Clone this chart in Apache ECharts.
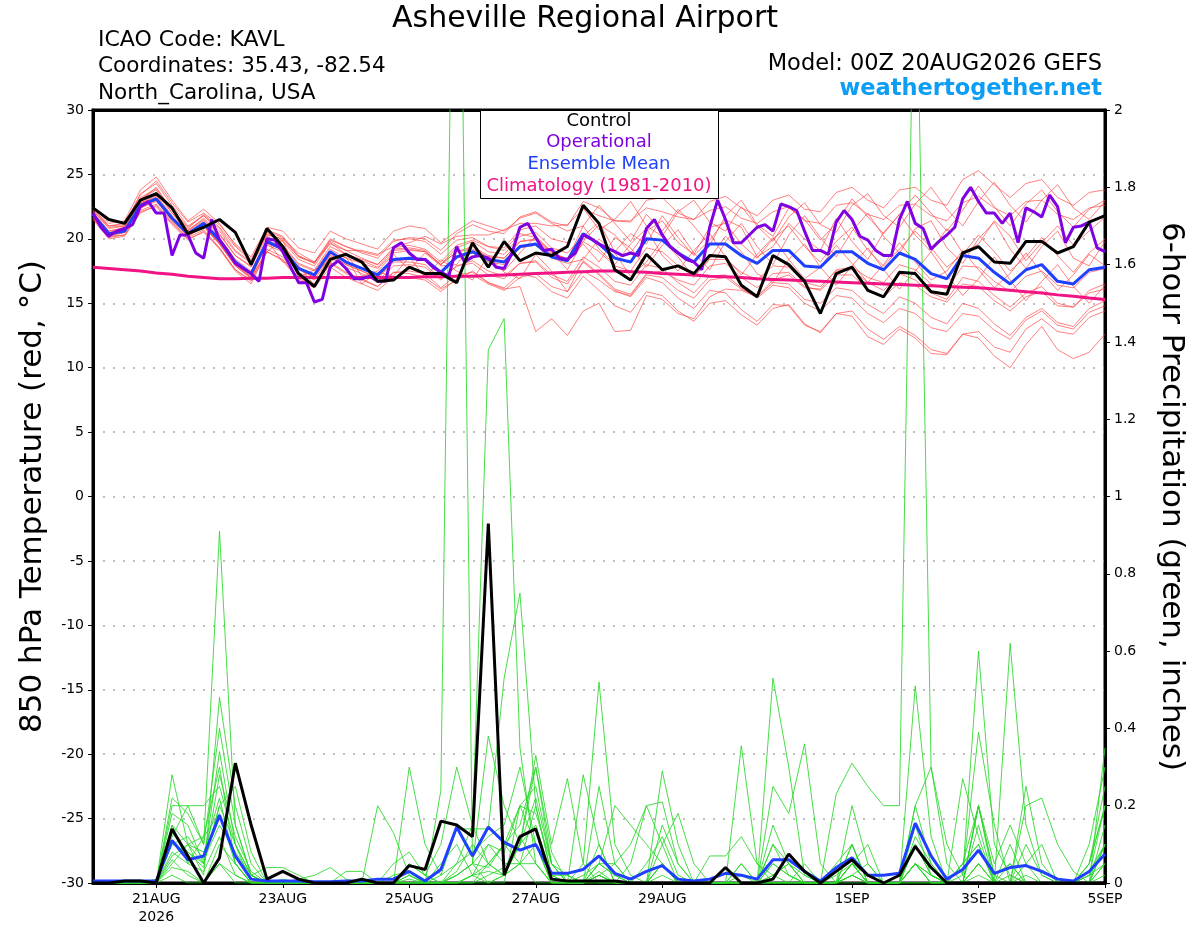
<!DOCTYPE html>
<html>
<head>
<meta charset="utf-8">
<title>Asheville Regional Airport - GEFS</title>
<script src="https://cdn.jsdelivr.net/npm/echarts@6.0.0/dist/echarts.min.js"></script>
<style>
  html, body { margin: 0; padding: 0; background: #fff; }
  #chart { width: 1200px; height: 927px; }
</style>
</head>
<body>
<div id="chart"></div>
<script>
'use strict';

// x axis = forecast hour from 00Z 20AUG2026
let tickHours = [24, 72, 120, 168, 216, 288, 336, 384];
let tickLabels = ['21AUG\n2026', '23AUG', '25AUG', '27AUG', '29AUG', '1SEP', '3SEP', '5SEP'];

// 850 hPa temperature (C), 6-hourly
let control = [
    22.4, 21.5, 21.2, 23.0, 23.5, 22.4, 20.4, 20.9, 21.5, 20.5, 18.0,
    20.8, 19.4, 17.3, 16.3, 18.4, 18.8, 18.2, 16.7, 16.8, 17.8,
    17.3, 17.3, 16.6, 19.7, 17.8, 19.8, 18.3, 18.9, 18.7, 19.4,
    22.6, 21.2, 17.6, 16.8, 18.8, 17.6, 17.9, 17.3, 18.7, 18.6,
    16.4, 15.5, 18.7, 18.0, 16.7, 14.2, 17.3, 17.8, 16.0, 15.5,
    17.4, 17.3, 15.9, 15.7, 18.9, 19.4, 18.2, 18.1, 19.8, 19.8,
    18.9, 19.4, 21.3, 21.8
];
let ensMean = [
    21.9, 20.4, 20.6, 22.6, 23.1, 21.6, 20.4, 21.2, 19.9, 18.2, 17.3,
    19.8, 19.2, 17.7, 17.2, 19.0, 18.2, 17.7, 17.2, 18.4, 18.5,
    18.4, 17.4, 18.6, 19.0, 18.4, 18.2, 19.4, 19.6, 18.6, 18.3,
    20.4, 19.6, 18.5, 18.2, 20.0, 19.9, 18.9, 18.2, 19.6, 19.6,
    18.7, 18.1, 19.1, 19.1, 17.9, 17.8, 19.0, 19.0, 18.1, 17.6,
    18.9, 18.4, 17.3, 16.9, 18.7, 18.5, 17.4, 16.5, 17.6, 18.0,
    16.7, 16.5, 17.6, 17.8
];
let climatology = [
    17.8, 17.7, 17.6, 17.5, 17.35, 17.25, 17.1, 17.0, 16.9,
    16.9, 16.95, 16.95, 17.0, 17.0, 17.0, 17.0, 17.0, 17.0, 17.0, 17.0, 17.0, 17.05,
    17.05, 17.1, 17.1, 17.15, 17.2, 17.25, 17.3, 17.35, 17.4, 17.45, 17.5,
    17.5, 17.45, 17.4, 17.3, 17.25, 17.2, 17.1, 17.05, 17.0, 16.9, 16.85,
    16.8, 16.75, 16.7, 16.65, 16.6, 16.55, 16.5, 16.45, 16.4, 16.35, 16.3,
    16.25, 16.2, 16.1, 16.0, 15.9, 15.8, 15.65, 15.55, 15.4, 15.3
];
// operational run, 3-hourly
let operational = [
    22.0, 20.9, 20.2, 20.6, 20.8, 21.1, 22.5, 22.9,
    22.0, 22.0, 18.7, 20.3, 20.3, 18.9, 18.5, 21.5,
    19.9, 19.1, 18.1, 17.7, 17.3, 16.7, 20.0, 19.9,
    19.0, 17.8, 16.6, 16.6, 15.1, 15.3, 17.8, 18.3,
    17.7, 16.9, 16.9, 17.1, 16.7, 16.7, 19.3, 19.7,
    18.9, 18.4, 18.4, 17.8, 17.4, 17.1, 19.4, 18.2,
    18.6, 18.7, 18.5, 17.8, 17.7, 18.9, 20.9, 21.2,
    20.1, 19.1, 19.2, 18.5, 18.4, 18.9, 20.3, 20.0,
    19.6, 19.3, 19.0, 18.7, 18.9, 18.7, 20.8, 21.5,
    20.3, 19.4, 18.9, 18.4, 18.2, 17.6, 20.9, 23.0,
    21.5, 19.7, 19.7, 20.3, 20.9, 21.1, 20.6, 22.7,
    22.5, 22.2, 20.6, 19.1, 19.1, 18.8, 21.3, 22.2,
    21.5, 20.2, 19.9, 19.1, 18.7, 18.7, 21.5, 22.9,
    21.2, 20.8, 19.2, 19.8, 20.3, 20.9, 23.1, 24.0,
    22.9, 22.0, 22.0, 21.2, 22.0, 19.7, 22.4, 22.1,
    21.7, 23.4, 22.5, 19.7, 20.9, 21.0, 21.3, 19.3,
    19.0
];

// ensemble members, 6-hourly
let tMem01 = [
    22.2, 20.9, 21.0, 23.0, 24.0, 22.2, 20.8, 21.9, 20.9, 19.4, 18.3,
    20.3, 20.0, 18.9, 18.2, 19.6, 19.1, 19.1, 18.8, 19.4, 19.7,
    20.2, 19.6, 20.2, 20.3, 20.3, 20.7, 21.2, 21.2, 21.0, 21.1,
    22.3, 21.8, 21.4, 21.4, 22.4, 22.1, 21.7, 21.5, 22.2, 22.5,
    21.6, 21.2, 22.1, 22.5, 21.4, 21.2, 22.6, 22.8, 21.9, 21.5,
    22.6, 22.7, 21.8, 21.4, 22.8, 23.3, 22.4, 21.8, 22.9, 23.0,
    21.9, 21.5, 22.4, 22.6
];
let tMem02 = [
    21.6, 20.1, 20.3, 22.0, 22.6, 21.2, 20.0, 20.5, 19.3, 17.6, 16.8,
    19.2, 18.6, 17.0, 16.5, 18.2, 17.4, 16.9, 16.3, 17.4, 17.3,
    17.0, 16.1, 16.8, 17.5, 16.6, 16.2, 17.3, 17.0, 15.9, 15.4,
    17.1, 16.0, 14.8, 14.3, 15.9, 15.6, 14.4, 13.6, 15.0, 15.2,
    14.1, 13.3, 14.6, 14.9, 13.4, 12.7, 14.2, 14.4, 13.0, 12.2,
    13.2, 12.5, 11.4, 11.1, 12.6, 12.3, 10.9, 10.0, 11.8, 13.2,
    11.4, 10.7, 11.2, 12.6
];
let tMem03 = [
    22.0, 20.6, 20.8, 23.1, 23.8, 22.0, 20.6, 21.6, 20.4, 18.7, 17.9,
    20.4, 19.8, 18.4, 17.9, 19.7, 18.8, 18.3, 17.8, 19.1, 19.2,
    19.0, 18.0, 19.3, 19.8, 19.0, 18.8, 20.2, 20.5, 19.3, 18.9,
    20.2, 21.3, 19.0, 20.4, 19.6, 21.8, 20.1, 18.7, 19.9, 21.5,
    20.9, 18.6, 19.4, 21.2, 20.0, 19.1, 21.6, 19.8, 18.4, 20.5,
    21.9, 20.3, 19.0, 20.8, 18.9, 19.6, 21.4, 20.2, 18.3, 19.7,
    21.0, 19.5, 20.6, 21.7
];
let tMem04 = [
    21.7, 20.2, 20.3, 22.2, 22.7, 21.3, 20.1, 20.7, 19.3, 17.6, 16.7,
    19.0, 18.4, 16.9, 16.4, 18.1, 17.3, 16.8, 16.3, 17.4, 17.5,
    17.3, 16.2, 17.2, 17.4, 16.6, 16.1, 16.3, 12.8, 13.8, 12.5,
    14.4, 15.0, 12.8, 12.9, 15.6, 15.3, 14.2, 13.8, 15.5, 16.1,
    16.0, 15.5, 16.8, 17.2, 16.2, 16.1, 17.6, 17.8, 17.0, 16.6,
    18.0, 17.6, 16.5, 16.1, 17.9, 17.8, 16.7, 15.9, 17.1, 17.5,
    16.4, 16.2, 17.4, 17.7
];
let tMem05 = [
    21.8, 20.3, 20.5, 22.4, 23.0, 21.5, 20.3, 21.0, 19.6, 18.0, 17.1,
    19.5, 19.0, 17.4, 16.8, 18.6, 17.8, 17.3, 16.7, 17.9, 18.0,
    17.8, 16.8, 17.9, 18.3, 17.5, 17.1, 18.1, 18.2, 17.0, 16.5,
    18.2, 17.2, 16.0, 15.5, 17.0, 16.6, 15.4, 14.6, 16.0, 15.8,
    14.5, 13.6, 14.9, 14.8, 13.3, 12.8, 14.2, 14.0, 12.4, 11.8,
    13.0, 12.3, 11.1, 11.0, 12.6, 12.8, 11.6, 11.2, 13.0, 13.8,
    12.8, 12.6, 13.9, 14.4
];
let tMem06 = [
    22.4, 21.0, 21.2, 23.4, 24.5, 22.8, 21.3, 22.0, 21.1, 19.6, 18.6,
    20.9, 20.6, 19.3, 18.9, 20.6, 20.0, 19.6, 19.2, 20.6, 21.0,
    20.8, 19.7, 20.6, 21.4, 21.0, 20.6, 21.6, 22.0, 21.2, 20.6,
    21.0, 22.6, 21.2, 19.8, 21.9, 20.6, 22.3, 21.0, 19.5, 21.8,
    23.0, 21.1, 20.2, 22.4, 21.5, 19.9, 21.2, 23.1, 21.7, 20.4,
    21.9, 23.4, 22.0, 20.6, 22.2, 24.1, 22.5, 21.0, 22.7, 23.8,
    22.1, 20.9, 22.3, 23.0
];
let tMem07 = [
    21.9, 20.3, 20.5, 22.4, 22.9, 21.4, 20.2, 21.0, 19.7, 18.0, 17.0,
    19.0, 19.9, 17.0, 17.6, 18.2, 18.9, 17.1, 17.5, 18.8, 17.6,
    18.9, 17.9, 18.0, 19.7, 18.3, 17.5, 18.9, 20.2, 19.0, 17.6,
    19.8, 19.0, 17.9, 17.5, 19.3, 19.0, 17.9, 17.1, 18.4, 18.4,
    17.4, 16.8, 17.9, 17.8, 16.6, 16.3, 17.5, 17.6, 16.6, 16.0,
    17.3, 16.8, 15.8, 15.3, 17.0, 16.7, 15.6, 14.7, 15.8, 16.3,
    15.0, 14.7, 15.8, 16.1
];
let tMem08 = [
    22.3, 21.0, 21.1, 23.5, 24.3, 22.6, 21.0, 21.8, 20.8, 19.1, 18.2,
    20.6, 20.1, 18.6, 18.1, 19.9, 19.4, 18.9, 18.5, 19.8, 20.1,
    20.0, 19.1, 20.4, 21.1, 20.6, 20.4, 21.7, 22.1, 21.3, 21.0,
    22.9, 22.4, 21.4, 21.3, 23.0, 23.2, 22.0, 21.5, 22.9, 23.3,
    22.4, 21.8, 23.0, 23.4, 22.3, 22.1, 23.6, 24.0, 23.0, 22.4,
    23.8, 24.0, 23.0, 22.6, 24.6, 25.3, 24.2, 23.2, 24.3, 24.6,
    23.2, 22.6, 23.6, 23.8
];
let tMem09 = [
    22.1, 20.6, 20.9, 22.9, 23.6, 22.0, 20.7, 21.5, 20.3, 18.7, 17.8,
    20.2, 19.5, 18.1, 17.6, 19.4, 18.8, 18.4, 18.0, 19.3, 19.5,
    19.2, 18.2, 19.5, 19.9, 19.4, 19.1, 20.4, 20.1, 19.0, 18.4,
    19.6, 18.2, 20.1, 19.3, 17.8, 19.5, 20.7, 18.9, 17.6, 19.8,
    21.2, 19.4, 18.0, 20.3, 21.8, 20.1, 18.6, 20.6, 22.0, 20.2,
    18.9, 20.8, 21.4, 19.3, 18.1, 20.0, 21.3, 19.2, 17.7, 19.4,
    20.6, 18.5, 17.9, 19.8
];
let tMem10 = [
    21.5, 20.0, 20.2, 22.1, 22.5, 21.1, 19.9, 20.6, 19.2, 17.5, 16.5,
    19.0, 18.3, 16.8, 16.2, 17.8, 17.0, 16.5, 16.0, 17.0, 17.0,
    16.8, 15.9, 16.9, 17.2, 16.5, 16.0, 17.0, 17.3, 16.3, 15.9,
    17.5, 16.8, 15.9, 15.6, 17.2, 17.0, 16.0, 15.4, 16.8, 17.0,
    16.1, 15.5, 16.6, 16.5, 15.3, 15.0, 16.2, 16.0, 14.9, 14.2,
    15.5, 15.0, 13.9, 13.4, 15.0, 14.6, 13.4, 12.5, 13.9, 14.6,
    13.5, 13.2, 14.6, 15.2
];
let tMem11 = [
    22.5, 21.2, 21.4, 23.8, 24.8, 23.0, 21.4, 22.3, 21.2, 19.5, 18.4,
    20.7, 20.2, 18.7, 18.1, 19.8, 19.1, 18.5, 18.0, 19.2, 19.3,
    19.1, 18.0, 19.0, 19.4, 18.7, 18.5, 19.8, 20.0, 18.9, 18.4,
    21.0, 19.2, 18.0, 19.6, 20.8, 18.7, 17.5, 19.1, 20.4, 18.6,
    17.2, 18.8, 20.1, 18.4, 16.9, 17.8, 19.5, 18.1, 16.6, 18.0,
    19.7, 18.2, 16.8, 17.5, 19.1, 17.6, 16.2, 17.3, 18.9, 17.4,
    16.0, 17.2, 18.8, 17.9
];
let tMem12 = [
    21.8, 20.4, 20.6, 22.7, 23.3, 21.7, 20.5, 21.2, 19.9, 18.2, 17.3,
    19.7, 19.1, 17.6, 17.0, 18.8, 18.0, 17.5, 17.0, 18.3, 18.4,
    18.3, 17.3, 18.5, 18.9, 18.2, 18.0, 19.3, 19.5, 18.5, 18.1,
    18.4, 20.0, 18.9, 17.1, 18.2, 19.9, 18.6, 17.0, 18.5, 20.2,
    19.0, 17.3, 16.6, 18.4, 19.6, 17.8, 16.4, 17.9, 19.3, 17.6,
    16.1, 17.5, 19.0, 17.2, 15.6, 16.9, 18.6, 16.8, 15.2, 16.7,
    18.0, 16.3, 15.0, 16.4
];
let tMem13 = [
    22.2, 20.8, 21.0, 23.2, 23.9, 22.3, 20.9, 21.8, 20.6, 19.0, 18.1,
    20.5, 19.9, 18.6, 18.2, 20.0, 19.4, 19.0, 18.7, 19.9, 20.0,
    19.8, 18.8, 19.9, 20.1, 19.4, 19.3, 20.7, 21.0, 20.0, 19.7,
    22.4, 20.7, 21.5, 22.9, 21.0, 20.2, 22.1, 23.0, 21.3, 20.6,
    22.5, 21.0, 19.8, 21.7, 22.8, 21.1, 20.5, 22.6, 23.5, 21.8,
    20.9, 22.7, 24.0, 22.3, 21.0, 22.9, 24.4, 22.6, 21.3, 23.0,
    24.2, 22.4, 21.5, 22.9
];
let tMem14 = [
    21.6, 20.2, 20.5, 22.6, 23.0, 21.6, 20.3, 21.1, 19.6, 17.9, 16.9,
    19.9, 18.2, 17.9, 16.4, 18.0, 18.6, 16.5, 17.4, 17.1, 18.6,
    17.0, 18.4, 17.5, 16.8, 18.7, 17.4, 16.9, 18.8, 17.5, 15.9,
    18.3, 17.3, 16.1, 15.7, 17.3, 17.5, 16.8, 16.4, 17.9, 18.1,
    17.0, 16.2, 17.3, 17.4, 16.3, 16.0, 17.2, 17.2, 16.1, 15.5,
    16.6, 16.4, 15.5, 15.1, 16.5, 16.3, 15.2, 14.4, 15.5, 15.9,
    14.8, 14.7, 16.0, 16.5
];
let tMem15 = [
    22.0, 20.5, 20.7, 22.8, 23.4, 21.8, 20.6, 21.4, 20.1, 18.4, 17.5,
    19.9, 19.4, 18.0, 17.5, 19.2, 18.5, 18.1, 17.7, 18.9, 19.1,
    19.0, 18.0, 19.0, 19.2, 18.6, 18.5, 19.8, 19.9, 18.8, 18.5,
    19.8, 21.1, 20.3, 18.9, 20.6, 21.4, 19.7, 18.8, 20.9, 21.2,
    19.6, 18.5, 20.0, 21.0, 19.4, 18.2, 19.8, 20.9, 19.1, 17.9,
    19.2, 20.6, 19.3, 17.8, 18.8, 20.3, 19.0, 17.5, 18.6, 20.1,
    18.7, 17.4, 18.9, 20.0
];
let tMem16 = [
    21.9, 20.4, 20.7, 22.8, 23.2, 21.5, 20.2, 20.9, 19.6, 17.9, 17.0,
    19.6, 19.2, 17.7, 17.0, 18.7, 18.0, 17.5, 16.9, 18.2, 18.2,
    18.0, 16.9, 17.9, 18.1, 17.2, 16.9, 18.1, 18.3, 17.2, 16.7,
    18.6, 17.8, 16.7, 16.4, 18.0, 17.7, 16.6, 15.8, 17.1, 17.2,
    16.2, 15.4, 16.4, 16.2, 15.0, 14.4, 15.6, 15.4, 14.2, 13.5,
    14.6, 14.2, 13.1, 12.8, 14.2, 14.0, 12.9, 12.2, 13.7, 14.4,
    13.3, 13.0, 14.3, 14.8
];
let tempMembers = [tMem01, tMem02, tMem03, tMem04, tMem05, tMem06, tMem07, tMem08,
    tMem09, tMem10, tMem11, tMem12, tMem13, tMem14, tMem15, tMem16];

// 6-hour precipitation (inches)
let ctrlPrecip = [
    0, 0, 0.005, 0.005, 0, 0.14, 0.07, 0, 0.065, 0.31,
    0.15, 0.01, 0.03, 0.01, 0, 0, 0, 0.01, 0, 0,
    0.045, 0.035, 0.16, 0.15, 0.12, 0.93, 0.02, 0.12, 0.14, 0.01,
    0.005, 0.005, 0.005, 0.005, 0, 0, 0, 0, 0, 0,
    0.04, 0, 0, 0.01, 0.075, 0.03, 0, 0.03, 0.06, 0.02,
    0, 0.02, 0.095, 0.04, 0, 0, 0, 0, 0, 0,
    0, 0, 0, 0, 0
];
let meanPrecip = [
    0.005, 0.005, 0.005, 0.005, 0.005, 0.11, 0.06, 0.07, 0.175, 0.07,
    0.01, 0.005, 0.005, 0.005, 0.003, 0.003, 0.005, 0.005, 0.01, 0.01,
    0.03, 0.005, 0.035, 0.145, 0.07, 0.145, 0.105, 0.085, 0.1, 0.025,
    0.025, 0.035, 0.07, 0.025, 0.01, 0.03, 0.045, 0.01, 0.005, 0.01,
    0.025, 0.02, 0.01, 0.06, 0.06, 0.03, 0.005, 0.04, 0.065, 0.02,
    0.02, 0.025, 0.155, 0.07, 0.01, 0.035, 0.085, 0.025, 0.04, 0.045,
    0.03, 0.01, 0.005, 0.03, 0.075
];
let pMem01 = [
    0, 0, 0, 0, 0, 0.2, 0.2, 0.1, 0.91, 0.15,
    0.02, 0, 0.01, 0, 0, 0, 0, 0, 0, 0,
    0.05, 0.02, 0.1, 0.3, 0.15, 0.05, 0.02, 0.1, 0.3, 0.05,
    0, 0, 0.05, 0.02, 0, 0, 0.29, 0.1, 0, 0,
    0, 0.02, 0, 0.1, 0.02, 0, 0, 0, 0.2, 0.05,
    0, 0, 0.1, 0.02, 0, 0, 0.2, 0.02, 0.05, 0,
    0, 0, 0, 0.02, 0.1
];
let pMem02 = [
    0, 0, 0, 0, 0, 0.28, 0.1, 0.02, 0.48, 0.2,
    0.05, 0, 0, 0, 0, 0, 0, 0, 0, 0.02,
    0.03, 0, 0.24, 3.3, 0.05, 0, 0, 0.2, 0.1, 0,
    0, 0.05, 0.52, 0.1, 0.02, 0, 0.05, 0, 0, 0,
    0, 0, 0, 0.02, 0.05, 0, 0, 0, 0.02, 0,
    0, 0, 0.05, 0.02, 0, 0.05, 0.1, 0, 0, 0.1,
    0.02, 0, 0, 0, 0.35
];
let pMem03 = [
    0, 0, 0, 0, 0, 0.18, 0.15, 0.05, 0.34, 0.1,
    0.02, 0.04, 0.04, 0.02, 0, 0, 0, 0, 0.2, 0.13,
    0.02, 0, 0.02, 0.05, 0.15, 1.38, 1.46, 0.35, 0.05, 0,
    0, 0.02, 0.05, 0.2, 0.15, 0.1, 0.05, 0, 0, 0,
    0, 0.355, 0.05, 0.02, 0, 0, 0, 0.02, 0.05, 0,
    0, 0, 0.51, 0.12, 0, 0, 0.05, 0, 0.62, 0.15,
    0.02, 0, 0, 0.02, 0.05
];
let pMem04 = [
    0, 0, 0, 0, 0, 0.15, 0.05, 0.12, 0.3, 0.05,
    0, 0, 0, 0.01, 0.02, 0.04, 0.01, 0, 0, 0,
    0.3, 0.1, 0.02, 0.14, 0.14, 0.14, 0.53, 0.75, 0.2, 0.02,
    0, 0, 0.02, 0.05, 0.1, 0.2, 0.21, 0.05, 0, 0,
    0, 0.05, 0, 0.53, 0.3, 0.02, 0, 0, 0.05, 0.1,
    0, 0, 0.05, 0, 0, 0.02, 0.6, 0.1, 0.02, 0,
    0, 0, 0, 0.05, 0.2
];
let pMem05 = [
    0, 0, 0, 0, 0, 0.12, 0.2, 0.2, 0.25, 0.1,
    0.02, 0, 0, 0, 0, 0, 0, 0, 0, 0,
    0.02, 0, 0, 0.02, 0.05, 0.38, 0.2, 0.1, 0.33, 0.1,
    0.27, 0.05, 0, 0, 0, 0, 0.1, 0.18, 0.05, 0,
    0, 0, 0, 0.25, 0.18, 0.36, 0.05, 0, 0.02, 0,
    0, 0, 0.2, 0.3, 0.1, 0.02, 0.39, 0.15, 0, 0,
    0, 0, 0, 0.1, 0.3
];
let pMem06 = [
    0, 0, 0, 0, 0.01, 0.1, 0.08, 0.05, 0.2, 0.25,
    0.08, 0, 0, 0, 0, 0, 0.03, 0.03, 0, 0,
    0.05, 0.02, 0, 0.03, 0.1, 0.05, 0.1, 0.2, 0.25, 0.05,
    0, 0.28, 0.1, 0, 0.05, 0.2, 0.1, 0, 0, 0.07,
    0.07, 0.12, 0.05, 0, 0, 0.05, 0, 0.23, 0.31, 0.25,
    0.2, 0.2, 2.6, 0.3, 0.05, 0, 0.05, 0, 0, 0.2,
    0.22, 0.1, 0.03, 0, 0
];
let pMem07 = [
    0, 0, 0, 0, 0, 0.08, 0.05, 0.03, 0.12, 0.02,
    0, 0, 0, 0, 0, 0, 0, 0, 0, 0,
    0.02, 0, 0, 0, 0.02, 0.1, 0.05, 0.05, 0.2, 0.02,
    0.02, 0, 0.25, 0.05, 0, 0, 0.02, 0, 0, 0,
    0, 0, 0, 0, 0, 0, 0, 0, 0.1, 0,
    0, 0, 0.2, 0.05, 0, 0.27, 0.12, 0, 0, 0.25,
    0.05, 0, 0, 0, 0.05
];
let pMem08 = [
    0, 0, 0, 0, 0, 0.06, 0.02, 0, 0.1, 0.05,
    0, 0, 0, 0, 0, 0, 0, 0, 0, 0,
    0, 0, 0.05, 0.1, 0.02, 0, 0.02, 0.1, 0.15, 0.02,
    0, 0, 0.1, 0, 0, 0, 0, 0, 0, 0,
    0, 0, 0, 0.1, 0.05, 0, 0, 0, 0.02, 0.05,
    0, 0, 0, 0, 0, 0, 0.2, 0.05, 0.15, 0.05,
    0, 0, 0, 0.03, 0.1
];
let pMem09 = [
    0, 0, 0, 0, 0, 0.05, 0.1, 0.05, 0.2, 0.1,
    0, 0, 0, 0, 0, 0, 0, 0, 0, 0,
    0, 0, 0, 0, 0, 0.05, 0.1, 0.05, 0, 0,
    0, 0, 0.03, 0, 0, 0, 0, 0, 0, 0,
    0, 0, 0, 0, 0, 0, 0, 0, 0, 0,
    0, 0, 0.05, 0, 0, 0, 0, 0, 0, 0,
    0, 0, 0, 0.05, 0.2
];
let pMem10 = [
    0, 0, 0, 0, 0, 0.04, 0.03, 0, 0.05, 0.02,
    0, 0, 0, 0, 0, 0, 0, 0, 0, 0,
    0.01, 0, 0, 0, 0.02, 0.03, 0.02, 0.05, 0.1, 0,
    0, 0, 0.02, 0, 0, 0, 0.05, 0, 0, 0,
    0, 0, 0, 0.05, 0.02, 0, 0, 0.05, 0.1, 0,
    0, 0, 0.05, 0.02, 0, 0.05, 0.1, 0, 0, 0.02,
    0, 0, 0, 0, 0.15
];
let pMem11 = [
    0, 0, 0, 0, 0, 0.15, 0.1, 0.08, 0.22, 0.05,
    0, 0, 0, 0, 0, 0, 0, 0, 0, 0,
    0, 0, 0, 0.05, 0.08, 0.12, 0.15, 0.3, 0.1, 0,
    0, 0, 0.05, 0.05, 0, 0, 0.15, 0.05, 0, 0,
    0, 0, 0, 0.02, 0.05, 0.02, 0, 0, 0.05, 0,
    0, 0, 0.1, 0.02, 0, 0, 0.2, 0, 0.1, 0,
    0, 0, 0, 0, 0.1
];
let pMem12 = [
    0, 0, 0, 0, 0, 0.1, 0.12, 0.06, 0.15, 0.08,
    0.02, 0, 0, 0, 0, 0, 0, 0, 0, 0,
    0, 0, 0, 0, 0, 0.02, 0.04, 0.1, 0.22, 0.05,
    0, 0, 0, 0, 0, 0, 0, 0, 0, 0,
    0, 0.05, 0, 0, 0, 0, 0, 0, 0.05, 0,
    0, 0, 0.05, 0, 0, 0, 0, 0, 0.02, 0,
    0, 0, 0, 0, 0.05
];
let pMem13 = [
    0, 0, 0, 0, 0, 0.22, 0.18, 0.1, 0.4, 0.15,
    0.02, 0, 0, 0, 0, 0, 0, 0, 0, 0,
    0, 0, 0, 0.02, 0.05, 0.04, 0.1, 0.15, 0.3, 0.08,
    0, 0, 0.02, 0, 0, 0, 0.05, 0, 0, 0,
    0, 0, 0, 0.15, 0.05, 0, 0, 0, 0.05, 0.02,
    0, 0, 0.12, 0.05, 0, 0, 0.15, 0, 0.05, 0,
    0, 0, 0, 0.05, 0.25
];
let pMem14 = [
    0, 0, 0, 0, 0, 0.02, 0, 0, 0.05, 0,
    0, 0, 0, 0, 0, 0, 0, 0, 0, 0,
    0, 0, 0, 0, 0, 0, 0.02, 0.05, 0.05, 0,
    0, 0, 0.02, 0, 0, 0, 0, 0, 0, 0,
    0, 0, 0, 0, 0, 0, 0, 0, 0.02, 0,
    0, 0, 0, 0, 0, 0, 0.02, 0, 0, 0,
    0, 0, 0, 0, 0.02
];
let pMem15 = [
    0, 0, 0, 0, 0, 0.13, 0.08, 0.04, 0.28, 0.12,
    0.03, 0, 0, 0, 0, 0, 0, 0, 0, 0.05,
    0.08, 0.02, 0, 0.02, 0.05, 0.1, 0.08, 0.2, 0.18, 0.05,
    0.02, 0, 0.05, 0.02, 0, 0.05, 0.12, 0.02, 0, 0,
    0, 0, 0, 0.05, 0.02, 0, 0, 0, 0.1, 0,
    0, 0, 0.15, 0.02, 0, 0.05, 0.2, 0.02, 0, 0.05,
    0.1, 0, 0, 0.02, 0.2
];
let pMem16 = [
    0, 0, 0, 0, 0, 0.07, 0.1, 0.12, 0.18, 0.05,
    0, 0, 0, 0, 0, 0, 0, 0, 0, 0,
    0, 0, 0, 0, 0.02, 0.05, 0.02, 0.12, 0.05, 0,
    0, 0, 0, 0, 0, 0, 0, 0, 0, 0,
    0, 0, 0, 0, 0, 0, 0, 0, 0.05, 0,
    0, 0, 0.05, 0, 0, 0, 0.05, 0, 0, 0,
    0, 0, 0, 0, 0.1
];
let precipMembers = [pMem01, pMem02, pMem03, pMem04, pMem05, pMem06, pMem07, pMem08,
    pMem09, pMem10, pMem11, pMem12, pMem13, pMem14, pMem15, pMem16];

let FONT = '"DejaVu Sans", "Liberation Sans", sans-serif';
let C_OPER = '#7f00e0';
let C_MEAN = '#2040ff';
let C_CLIM = '#f01485';

// [hour, value] pairs
let toPairs = function (arr, step) {
    return arr.map(function (v, i) { return [i * step, v]; });
};

let lineSeries = function (name, arr, step, axis, color, width) {
    return {
        name: name,
        type: 'line',
        yAxisIndex: axis,
        data: toPairs(arr, step),
        symbol: 'none',
        silent: true,
        lineStyle: { color: color, width: width }
    };
};

let series = [];
tempMembers.forEach(function (m, k) {
    series.push(lineSeries('T member ' + (k + 1), m, 6, 0, 'rgba(255,60,60,0.72)', 0.9));
});
precipMembers.forEach(function (m, k) {
    series.push(lineSeries('P member ' + (k + 1), m, 6, 1, 'rgba(40,215,40,0.85)', 1));
});
series.push(lineSeries('Climatology (1981-2010)', climatology, 6, 0, C_CLIM, 3));
series.push(lineSeries('Ensemble Mean', ensMean, 6, 0, C_MEAN, 3));
series.push(lineSeries('Operational', operational, 3, 0, C_OPER, 3));
series.push(lineSeries('Control', control, 6, 0, '#000', 3));
series.push(lineSeries('Ensemble Mean precip', meanPrecip, 6, 1, C_MEAN, 3));
series.push(lineSeries('Control precip', ctrlPrecip, 6, 1, '#000', 3));

let txt = function (text, x, y, size, align, color, weight) {
    return {
        type: 'text',
        x: x,
        y: y,
        z: 20,
        style: {
            text: text,
            fontFamily: FONT,
            fontSize: size,
            fontWeight: weight || 'normal',
            fill: color || '#000',
            align: align,
            textAlign: align,
            verticalAlign: 'middle',
            textVerticalAlign: 'middle'
        }
    };
};

let myChart = echarts.init(document.getElementById('chart'), null, { renderer: 'canvas' });

let option = {
    animation: false,
    backgroundColor: '#fff',
    textStyle: { fontFamily: FONT },
    grid: {
        left: 93, right: 95, top: 110, bottom: 44,
        show: true, borderColor: '#000', borderWidth: 3, backgroundColor: 'transparent'
    },
    xAxis: [{
        type: 'value',
        min: 0,
        max: 384,
        axisLine: { show: true, onZero: false, lineStyle: { color: '#000', width: 3 } },
        axisTick: { show: true, customValues: tickHours, length: 5, lineStyle: { color: '#000', width: 1 } },
        axisLabel: {
            customValues: tickHours,
            formatter: function (v) {
                let k = tickHours.indexOf(v);
                return k >= 0 ? tickLabels[k] : '';
            },
            color: '#000', fontFamily: FONT, fontSize: 14, margin: 7, lineHeight: 18
        },
        splitLine: { show: false }
    }, {
        // top frame line
        type: 'value',
        position: 'top',
        min: 0,
        max: 384,
        axisLine: { show: true, onZero: false, lineStyle: { color: '#000', width: 3 } },
        axisTick: { show: false },
        axisLabel: { show: false },
        splitLine: { show: false }
    }],
    yAxis: [{
        type: 'value',
        position: 'left',
        min: -30,
        max: 30,
        interval: 5,
        name: '850 hPa Temperature (red, °C)',
        nameLocation: 'middle',
        nameRotate: 90,
        nameGap: 45,
        nameTextStyle: { color: '#000', fontFamily: FONT, fontSize: 31 },
        axisLine: { show: true, onZero: false, lineStyle: { color: '#000', width: 3 } },
        axisTick: { show: true, length: 5, lineStyle: { color: '#000', width: 1 } },
        axisLabel: { color: '#000', fontFamily: FONT, fontSize: 14, margin: 9 },
        splitLine: { show: true, lineStyle: { color: '#aaa', width: 1.5, type: [2, 8] } }
    }, {
        type: 'value',
        position: 'right',
        min: 0,
        max: 2,
        interval: 0.2,
        name: '6-hour Precipitation (green, inches)',
        nameLocation: 'middle',
        nameRotate: -90,
        nameGap: 51,
        nameTextStyle: { color: '#000', fontFamily: FONT, fontSize: 31 },
        axisLine: { show: true, onZero: false, lineStyle: { color: '#000', width: 3 } },
        axisTick: { show: true, length: 5, lineStyle: { color: '#000', width: 1 } },
        axisLabel: { color: '#000', fontFamily: FONT, fontSize: 14, margin: 9 },
        splitLine: { show: false }
    }],
    graphic: [
        txt('Asheville Regional Airport', 585, 19, 30, 'center'),
        txt('ICAO Code: KAVL', 98, 40, 22, 'left'),
        txt('Coordinates: 35.43, -82.54', 98, 66, 21.5, 'left'),
        txt('North_Carolina, USA', 98, 93, 21.5, 'left'),
        txt('Model: 00Z 20AUG2026 GEFS', 1102, 64, 22.5, 'right'),
        txt('weathertogether.net', 1102, 89, 22.5, 'right', '#0c9ef5', 'bold'),
        {
            type: 'rect',
            z: 19,
            shape: { x: 480.5, y: 110.5, width: 238, height: 88 },
            style: { fill: '#fff', stroke: '#000', lineWidth: 1 }
        },
        txt('Control', 599, 121, 18, 'center', '#000'),
        txt('Operational', 599, 142.5, 18, 'center', C_OPER),
        txt('Ensemble Mean', 599, 164, 18, 'center', C_MEAN),
        txt('Climatology (1981-2010)', 599, 186, 18, 'center', C_CLIM)
    ],
    series: series
};

myChart.setOption(option);
</script>
</body>
</html>
